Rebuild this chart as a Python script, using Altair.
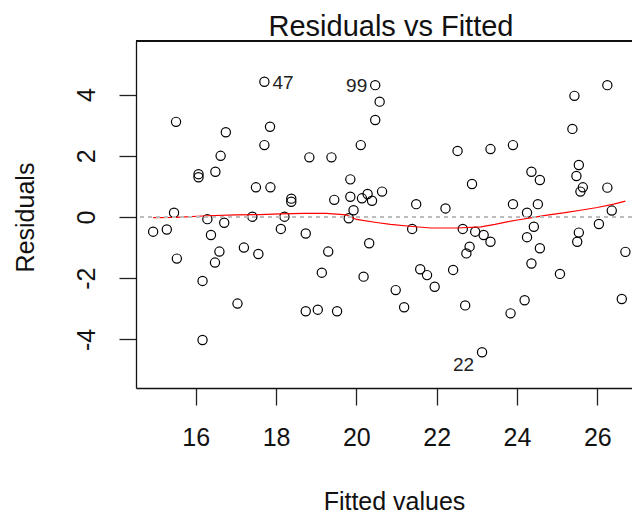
import altair as alt
import pandas as pd

# ---- data ----
fitted = [17.71, 20.47, 20.58, 20.47, 15.51, 17.85, 16.75, 17.71, 20.11, 16.62,
          18.83, 19.38, 16.07, 16.07, 16.49, 19.85, 17.50, 17.86, 18.38, 18.38,
          19.45, 19.85, 20.14, 20.28, 20.39, 20.64, 19.93, 19.81, 15.46, 16.29,
          16.71, 17.41, 18.21, 14.94, 15.28, 16.38, 18.12, 18.74, 20.32, 15.53,
          16.59, 16.48, 17.20, 17.56, 19.30, 19.14, 16.17, 20.18, 17.04, 18.74,
          19.04, 19.52, 16.17, 26.25, 25.43, 25.38, 23.90, 23.34, 22.52, 24.36,
          24.57, 25.54, 25.48, 25.64, 25.58, 26.25, 22.88, 21.49, 22.22, 23.90,
          24.52, 24.25, 26.36, 26.04, 21.39, 22.65, 22.96, 23.17, 23.34, 24.42,
          24.25, 25.54, 25.50, 22.82, 22.74, 24.57, 26.70, 21.59, 21.76, 21.95,
          22.41, 20.98, 21.19, 22.71, 24.36, 25.07, 24.19, 23.84, 26.61, 23.13]
residuals = [4.42, 4.31, 3.77, 3.17, 3.11, 2.95, 2.77, 2.35, 2.35, 2.00,
             1.95, 1.95, 1.40, 1.30, 1.48, 1.23, 0.97, 0.97, 0.60, 0.50,
             0.56, 0.66, 0.61, 0.75, 0.53, 0.83, 0.22, -0.04, 0.14, -0.07,
             -0.19, 0.01, 0.01, -0.48, -0.41, -0.59, -0.39, -0.54, -0.86, -1.36,
             -1.13, -1.49, -1.00, -1.21, -1.13, -1.82, -2.09, -1.95, -2.83, -3.08,
             -3.03, -3.08, -4.02, 4.31, 3.96, 2.88, 2.35, 2.22, 2.16, 1.48,
             1.21, 1.70, 1.34, 0.97, 0.83, 0.96, 1.08, 0.42, 0.28, 0.42,
             0.42, 0.14, 0.21, -0.23, -0.39, -0.39, -0.48, -0.59, -0.81, -0.32,
             -0.66, -0.51, -0.81, -0.97, -1.19, -1.02, -1.14, -1.71, -1.90, -2.28,
             -1.73, -2.39, -2.95, -2.89, -1.52, -1.86, -2.72, -3.15, -2.68, -4.42]

smooth_x = [14.94, 15.5, 16.3, 17.0, 17.6, 18.1, 18.7, 19.25, 19.75, 20.0, 20.5,
            20.85, 21.4, 21.85, 22.5, 23.1, 23.45, 23.75, 24.05, 24.34, 24.75,
            25.2, 25.58, 26.0, 26.41, 26.7]
smooth_y = [-0.02, -0.01, 0.04, 0.07, 0.08, 0.10, 0.12, 0.12, 0.07, -0.08, -0.18,
            -0.24, -0.31, -0.36, -0.36, -0.32, -0.24, -0.16, -0.09, -0.03, 0.06,
            0.14, 0.22, 0.31, 0.42, 0.52]

label_text = ["47", "99", "22"]
label_index = [0, 1, 99]

x_ticks = [16, 18, 20, 22, 24, 26]
y_ticks = [-4, -2, 0, 2, 4]

FONT = "Liberation Sans"
W, H = 496, 347

pts = pd.DataFrame({"fitted": fitted, "resid": residuals})
sm = pd.DataFrame({"fitted": smooth_x, "resid": smooth_y})
labs = pd.DataFrame({
    "fitted": [fitted[i] for i in label_index],
    "resid": [residuals[i] for i in label_index],
    "lab": label_text,
})

xs = alt.Scale(domain=[14.513, 26.864], nice=False, zero=False)
ys = alt.Scale(domain=[-5.59, 5.753], nice=False, zero=False)

x_axis = alt.Axis(
    values=x_ticks, title="Fitted values", grid=False,
    tickSize=17, labelPadding=20, labelFontSize=25, labelFont=FONT,
    labelColor="#111", tickColor="#222", tickWidth=1.3,
    domainColor="#111", domainWidth=1.3,
    titleFont=FONT, titleFontSize=25, titleFontWeight="normal", titleColor="#111",
    titleX=258, titleY=121, titleBaseline="alphabetic", titleAlign="center",
    labelFlush=False, labelOverlap=False)
y_axis = alt.Axis(
    values=y_ticks, title="Residuals", grid=False,
    tickSize=17, labelPadding=25, labelFontSize=25, labelFont=FONT,
    labelAngle=270, labelAlign="center", labelBaseline="alphabetic",
    labelExpr="datum.value < 0 ? '-' + abs(datum.value) : '' + datum.value",
    labelColor="#111", tickColor="#222", tickWidth=1.3,
    domainColor="#111", domainWidth=1.3,
    titleFont=FONT, titleFontSize=25, titleFontWeight="normal", titleColor="#111",
    titleAngle=270, titleX=-103, titleY=176, titleBaseline="alphabetic",
    titleAlign="center", labelFlush=False, labelOverlap=False)

X = alt.X("fitted:Q", scale=xs, axis=x_axis)
Y = alt.Y("resid:Q", scale=ys, axis=y_axis)

points = alt.Chart(pts).mark_point(
    shape="circle", filled=False, color="black", size=85, strokeWidth=1.2, opacity=1
).encode(x=X, y=Y)

smooth = alt.Chart(sm).mark_line(color="#ff0000", strokeWidth=1.2).encode(x=X, y=Y)

zero = alt.Chart(pts).mark_rule(color="#bdbdbd", strokeWidth=1.5, strokeDash=[4, 4]).encode(
    y=alt.datum(0)
)

top_border = alt.Chart(pts).mark_rule(color="#111", strokeWidth=1.3).encode(
    x=alt.value(0), x2=alt.value(W), y=alt.value(0)
)

def label_layer(i, align, dx, dy):
    return alt.Chart(labs.iloc[[i]]).mark_text(
        align=align, baseline="middle", dx=dx, dy=dy, fontSize=19, font=FONT, color="#222"
    ).encode(x=X, y=Y, text="lab:N")

chart = alt.layer(
    points, smooth, zero, top_border,
    label_layer(0, "left", 8, 1),
    label_layer(1, "right", -8, 1),
    label_layer(2, "right", -8, 13),
).properties(
    width=W, height=H,
    title=alt.TitleParams("Residuals vs Fitted", fontSize=29, font=FONT,
                          fontWeight="normal", color="#111", anchor="middle",
                          offset=1, dx=7, dy=3),
    autosize=alt.AutoSizeParams(type="none"),
    padding={"left": 128, "top": 33, "right": 0, "bottom": 128},
).configure(background="white", view=alt.ViewConfig(stroke=None))

chart.save("out.html", embed_options={"renderer": "svg", "actions": False})
